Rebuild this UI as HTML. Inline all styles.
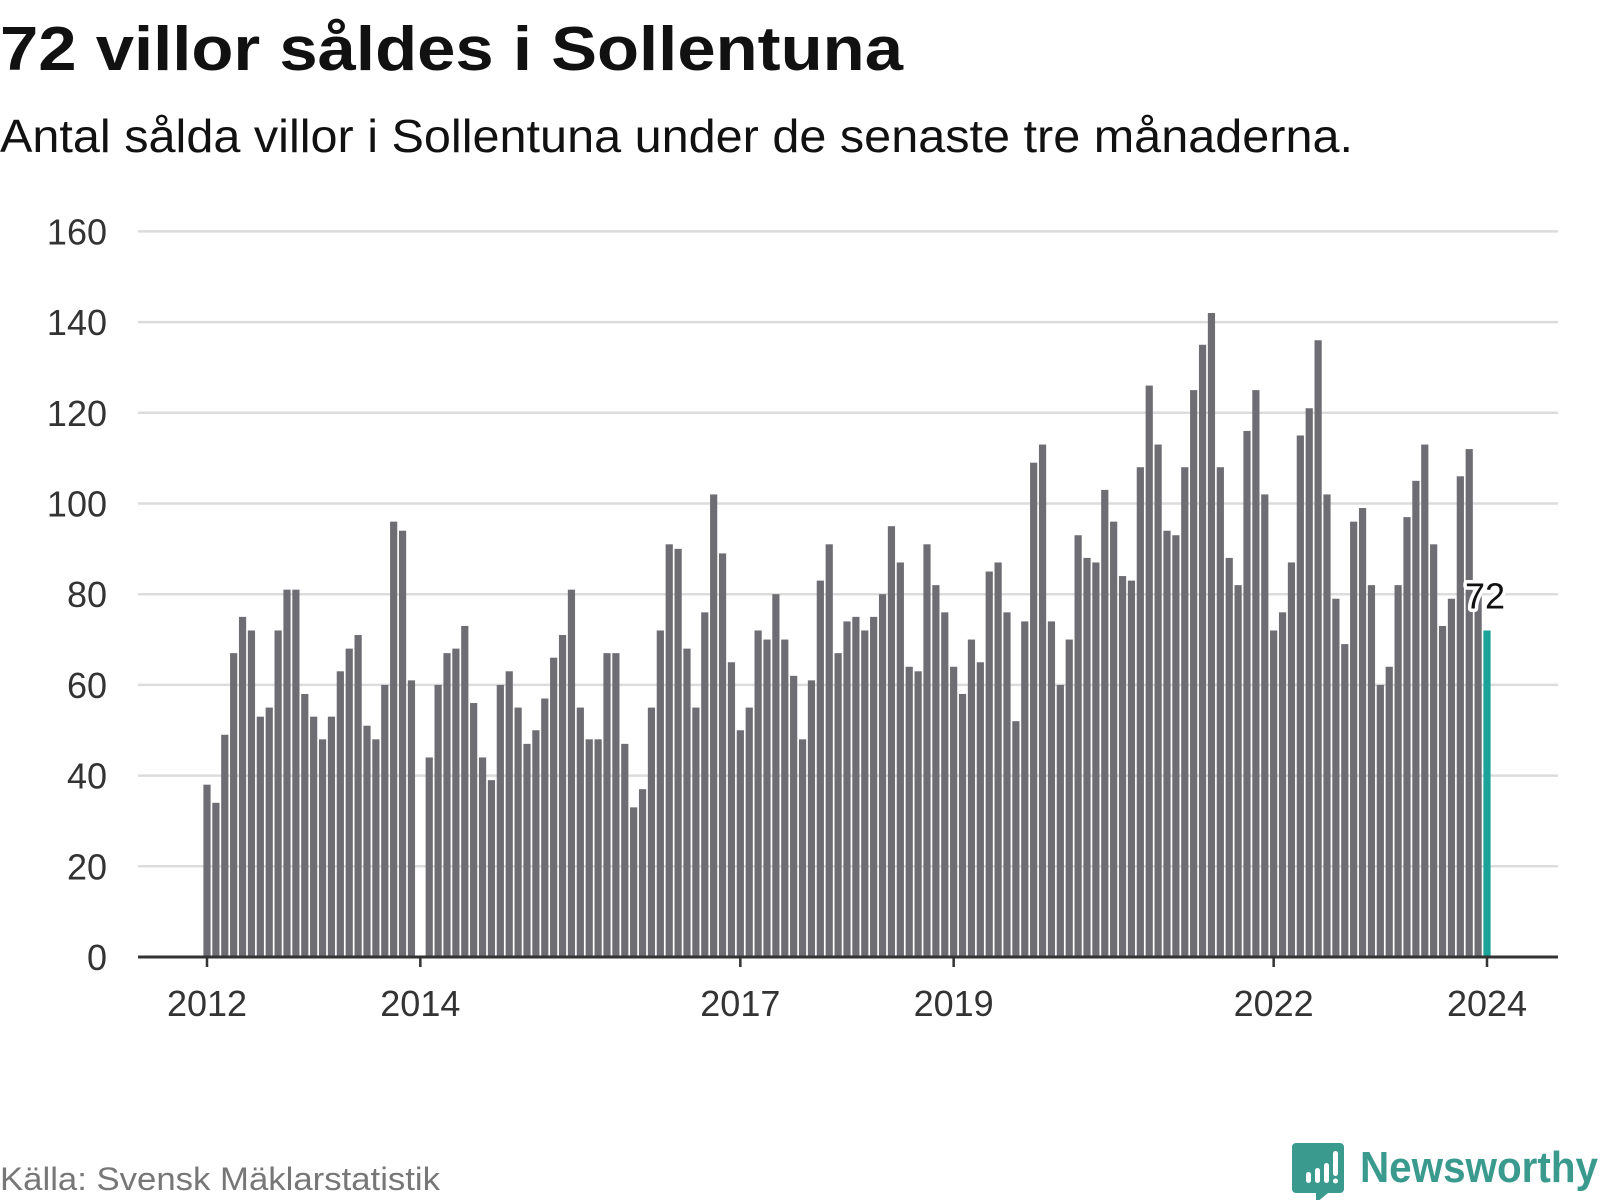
<!DOCTYPE html>
<html><head><meta charset="utf-8">
<style>
html,body{margin:0;padding:0;background:#fff;}
svg{display:block;font-family:"Liberation Sans",sans-serif;}
</style></head>
<body>
<svg id="chart" width="1600" height="1200" viewBox="0 0 1600 1200" xmlns="http://www.w3.org/2000/svg">
<text x="0" y="70" font-size="62" font-weight="bold" fill="#111" textLength="903" lengthAdjust="spacingAndGlyphs">72 villor såldes i Sollentuna</text>
<text x="0" y="152" font-size="46" fill="#111" textLength="1353" lengthAdjust="spacingAndGlyphs">Antal sålda villor i Sollentuna under de senaste tre månaderna.</text>
<g id="grid"></g>
<g id="bars"></g>
<g id="xaxis"></g>
<text x="0" y="1190" font-size="32" fill="#777" textLength="440" lengthAdjust="spacingAndGlyphs">Källa: Svensk Mäklarstatistik</text>
<g>
<path d="M1296 1143 h44 a4 4 0 0 1 4 4 v42 a4 4 0 0 1 -4 4 h-12 l-12 10 v-10 h-20 a4 4 0 0 1 -4 -4 v-42 a4 4 0 0 1 4 -4z" fill="#3a9a8e"/>
<rect x="1306" y="1172" width="5" height="11" rx="2.5" fill="#fff"/>
<rect x="1315" y="1168" width="5" height="15" rx="2.5" fill="#fff"/>
<rect x="1324" y="1163" width="5" height="20" rx="2.5" fill="#fff"/>
<rect x="1333" y="1151" width="5" height="25" rx="2.5" fill="#fff"/>
<circle cx="1335.5" cy="1181" r="2.5" fill="#fff"/>
<text x="1360" y="1182" font-size="44" font-weight="bold" fill="#3a9a8e" textLength="238" lengthAdjust="spacingAndGlyphs">Newsworthy</text>
</g>
</svg>
<script>
const values = [
38,34,49,67,75,72,53,55,72,81,81,58,
53,48,53,63,68,71,51,48,60,96,94,61,
0,44,60,67,68,73,56,44,39,60,63,55,
47,50,57,66,71,81,55,48,48,67,67,47,
33,37,55,72,91,90,68,55,76,102,89,65,
50,55,72,70,80,70,62,48,61,83,91,67,
74,75,72,75,80,95,87,64,63,91,82,76,
64,58,70,65,85,87,76,52,74,109,113,74,
60,70,93,88,87,103,96,84,83,108,126,113,
94,93,108,125,135,142,108,88,82,116,125,102,
72,76,87,115,121,136,102,79,69,96,99,82,
60,64,82,97,105,113,91,73,79,106,112,80,
72];
const startYear = 2012;
const yTicks = [0,20,40,60,80,100,120,140,160];
const xTickYears = [2012,2014,2017,2019,2022,2024];
const highlightLabel = "72";

const NS="http://www.w3.org/2000/svg";
const x0=207, stepX=(1487-207)/144, y0=957, pxPerUnit=725.6/160;
function xScale(i){return x0+i*stepX;}
function yScale(v){return y0-v*pxPerUnit;}
function mk(tag,attrs,parent){const e=document.createElementNS(NS,tag);for(const k in attrs)e.setAttribute(k,attrs[k]);parent.appendChild(e);return e;}

const grid=document.getElementById('grid');
yTicks.forEach(t=>{
  if(t>0){const l=mk('line',{x1:138,x2:1558,y1:yScale(t),y2:yScale(t),stroke:'#dcdcdc','stroke-width':2.5},grid);
  
  }
  const tx=mk('text',{x:107,y:yScale(t)+13,'text-anchor':'end','font-size':36,fill:'#333'},grid);
  tx.textContent=t;
  
  
});

const bars=document.getElementById('bars');
values.forEach((v,i)=>{
  if(v<=0)return;
  const last=i===values.length-1;
  const r=mk('rect',{x:xScale(i)-3.6,y:yScale(v),width:7.2,height:y0-yScale(v),fill:last?'#1ba39a':'#6e6d74'},bars);
  
  
});
const li=values.length-1;
const lab=mk('text',{x:xScale(li)-2,y:yScale(values[li])-22,'text-anchor':'middle','font-size':36,fill:'#111',stroke:'#fff','stroke-width':7,'paint-order':'stroke','stroke-linejoin':'round'},bars);
lab.textContent=highlightLabel;



const xa=document.getElementById('xaxis');
const ax=mk('line',{x1:138,x2:1558,y1:y0,y2:y0,stroke:'#333','stroke-width':3},xa);


xTickYears.forEach(yr=>{
  const i=(yr-startYear)*12;
  const tk=mk('line',{x1:xScale(i),x2:xScale(i),y1:y0,y2:y0+10,stroke:'#333','stroke-width':2.5},xa);
  
  
  const t=mk('text',{x:xScale(i),y:1016,'text-anchor':'middle','font-size':36,fill:'#333'},xa);
  t.textContent=yr;
  
  
});
</script>
</body></html>
